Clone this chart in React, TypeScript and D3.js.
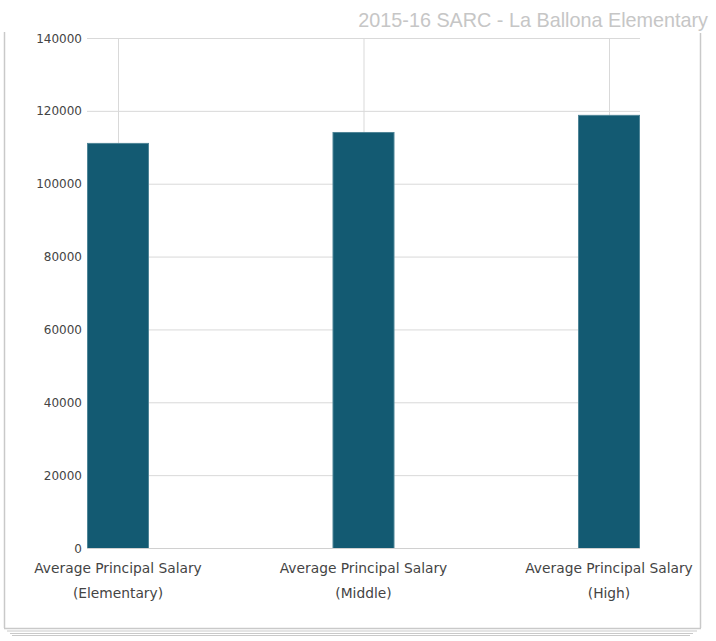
import React from "react";
import * as d3 from "d3";

const categories = ["Average Principal Salary (Elementary)", "Average Principal Salary (Middle)", "Average Principal Salary (High)"];
const labelLines = [["Average Principal Salary", "(Elementary)"], ["Average Principal Salary", "(Middle)"], ["Average Principal Salary", "(High)"]];
const values = [111200, 114200, 118900];
const yTicks = [0, 20000, 40000, 60000, 80000, 100000, 120000, 140000];
const title = "2015-16 SARC - La Ballona Elementary";

export default function App() {
  const W = 716, H = 641;
  const left = 87, right = 640, top = 38, bottom = 548;
  const barW = 62;
  const y = d3.scaleLinear().domain([0, 140000]).range([bottom, top]);
  const x = d3.scalePoint<string>().domain(categories).range([left + barW / 2, right - barW / 2]).padding(0);
  const grid = "#d9d9d9";
  const frame = "#c9c9c9";
  return (
    <svg width={W} height={H} style={{ position: "absolute", left: 0, top: 0 }}>
      <rect x={0} y={0} width={W} height={H} fill="#fff" />
      {/* frame */}
      <line x1={4.5} y1={32} x2={4.5} y2={628} stroke={frame} strokeWidth={1.5} />
      <line x1={700.5} y1={33} x2={700.5} y2={628} stroke={frame} strokeWidth={1.5} />
      <line x1={4} y1={628.5} x2={701} y2={628.5} stroke={frame} strokeWidth={1.5} />
      <line x1={7} y1={631} x2={697} y2={631} stroke={frame} strokeWidth={1} />
      <line x1={10} y1={633.5} x2={693} y2={633.5} stroke={frame} strokeWidth={1} />
      <line x1={12} y1={635.5} x2={690} y2={635.5} stroke={frame} strokeWidth={1} />
      <text x={708} y={27} textAnchor="end" fontFamily="Liberation Sans, Arial, sans-serif" fontSize={19.8} fill="#c6c6c6">{title}</text>
      {/* horizontal grid */}
      {yTicks.map((t) => (
        <g key={t}>
          <line x1={left} x2={right} y1={y(t) + 0.5} y2={y(t) + 0.5} stroke={grid} strokeWidth={1} />
          <text x={82} y={y(t) + 4.5} textAnchor="end" fontFamily="DejaVu Sans, Verdana, sans-serif" fontSize={12} fill="#444">{t}</text>
        </g>
      ))}
      {/* vertical grid */}
      {categories.map((c) => (
        <line key={c} x1={(x(c) as number) + 0.5} x2={(x(c) as number) + 0.5} y1={top} y2={bottom} stroke={grid} strokeWidth={1} />
      ))}
      {/* bars */}
      {categories.map((c, i) => (
        <rect key={c} x={(x(c) as number) - barW / 2 + 0.5} y={y(values[i]) + 0.5} width={barW - 1} height={bottom - y(values[i])} fill="#135a72" stroke="#4f8597" strokeWidth={1} />
      ))}
      <line x1={left} x2={right} y1={bottom + 0.5} y2={bottom + 0.5} stroke="#d0d0d0" strokeWidth={1} />
      {/* x labels */}
      {categories.map((c, i) => (
        <text key={c} textAnchor="middle" fontFamily="DejaVu Sans, Verdana, sans-serif" fontSize={13.8} fill="#444">
          {labelLines[i].map((l, j) => (
            <tspan key={j} x={x(c) as number} y={573 + j * 24.5}>{l}</tspan>
          ))}
        </text>
      ))}
    </svg>
  );
}
